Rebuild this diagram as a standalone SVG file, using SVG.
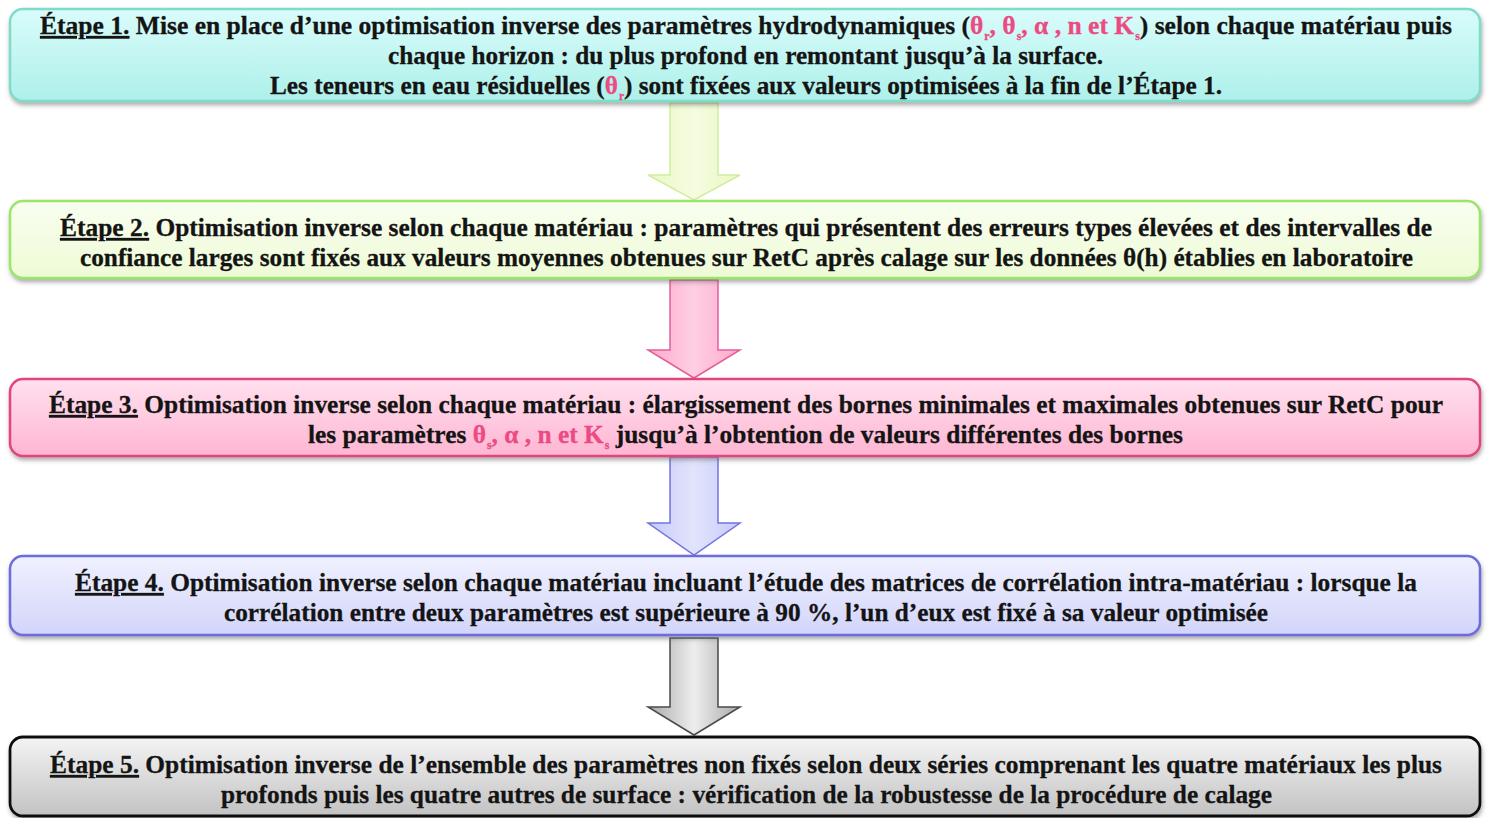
<svg xmlns="http://www.w3.org/2000/svg" width="1488" height="818" viewBox="0 0 1488 818">
<defs>
<linearGradient id="g1" x1="0" y1="0" x2="0" y2="1"><stop offset="0" stop-color="#d9fcfb"/><stop offset="1" stop-color="#aef0ea"/></linearGradient>
<linearGradient id="g2" x1="0" y1="0" x2="0" y2="1"><stop offset="0" stop-color="#f9fef0"/><stop offset="1" stop-color="#eefbd6"/></linearGradient>
<linearGradient id="g3" x1="0" y1="0" x2="0" y2="1"><stop offset="0" stop-color="#ffe0ee"/><stop offset="1" stop-color="#ffb6d3"/></linearGradient>
<linearGradient id="g4" x1="0" y1="0" x2="0" y2="1"><stop offset="0" stop-color="#f0f1fe"/><stop offset="1" stop-color="#d2d5fa"/></linearGradient>
<linearGradient id="g5" x1="0" y1="0" x2="0" y2="1"><stop offset="0" stop-color="#f4f4f4"/><stop offset="1" stop-color="#c2c2c2"/></linearGradient>
<linearGradient id="a1" x1="0" y1="0" x2="1" y2="0"><stop offset="0" stop-color="#eaf7c4"/><stop offset="0.5" stop-color="#f6fce0"/><stop offset="1" stop-color="#eaf7c4"/></linearGradient>
<linearGradient id="a2" x1="0" y1="0" x2="1" y2="0"><stop offset="0" stop-color="#ffa8cc"/><stop offset="0.5" stop-color="#ffcfe3"/><stop offset="1" stop-color="#ffa8cc"/></linearGradient>
<linearGradient id="a3" x1="0" y1="0" x2="1" y2="0"><stop offset="0" stop-color="#c6caf8"/><stop offset="0.5" stop-color="#e2e4fc"/><stop offset="1" stop-color="#c6caf8"/></linearGradient>
<linearGradient id="a4" x1="0" y1="0" x2="1" y2="0"><stop offset="0" stop-color="#a8a8a8"/><stop offset="0.5" stop-color="#eeeeee"/><stop offset="1" stop-color="#a8a8a8"/></linearGradient>
<filter id="sh" x="-5%" y="-20%" width="110%" height="150%"><feDropShadow dx="1" dy="3" stdDeviation="2" flood-color="#666" flood-opacity="0.55"/></filter>
</defs>
<style>
.t{font-weight:bold;font-size:26px;fill:#141414}
text{stroke:#141414;stroke-width:0.3}
.p{fill:#ec4a82;stroke:#ec4a82}
.s{font-size:12px}
.u{text-decoration:underline}
.box{stroke-width:2.5}
.arr{stroke-width:1.5;stroke-linejoin:miter}
</style>
<rect x="0" y="0" width="1488" height="818" fill="#ffffff"/>
<g id="connectors">
<polygon class="arr" fill="url(#a1)" stroke="#cfeea0" points="670,103 718,103 718,175 740,175 694,200 648,175 670,175"/>
<polygon class="arr" fill="url(#a2)" stroke="#e2609a" points="670,280 718,280 718,350 740,350 694,378 648,350 670,350"/>
<polygon class="arr" fill="url(#a3)" stroke="#7474e0" points="670,457 718,457 718,523 740,523 694,555 648,523 670,523"/>
<polygon class="arr" fill="url(#a4)" stroke="#4a4a4a" points="670,638 718,638 718,707 740,707 694,735 648,707 670,707"/>
</g>
<g class="t" font-family="Liberation Serif, DejaVu Serif, serif">
<g id="step1">
<rect class="box" x="10" y="9" width="1470" height="92" rx="13" fill="url(#g1)" stroke="#7fdcc8" filter="url(#sh)"/>
<text x="40" y="34" textLength="1412" lengthAdjust="spacingAndGlyphs"><tspan class="u">Étape 1.</tspan> Mise en place d’une optimisation inverse des paramètres hydrodynamiques (<tspan class="p">θ</tspan><tspan class="p s" dx="1" dy="6">r</tspan><tspan class="p" dy="-6">, θ</tspan><tspan class="p s" dx="1" dy="6">s</tspan><tspan class="p" dy="-6">, α , n et K</tspan><tspan class="p s" dx="1" dy="6">s</tspan><tspan dy="-6">) selon chaque matériau puis</tspan></text>
<text x="388" y="64" textLength="715" lengthAdjust="spacingAndGlyphs">chaque horizon : du plus profond en remontant jusqu’à la surface.</text>
<text x="270" y="94" textLength="952" lengthAdjust="spacingAndGlyphs">Les teneurs en eau résiduelles (<tspan class="p">θ</tspan><tspan class="p s" dx="1" dy="6">r</tspan><tspan dy="-6">) sont fixées aux valeurs optimisées à la fin de l’Étape 1.</tspan></text>
</g>
<g id="step2">
<rect class="box" x="10" y="201" width="1470" height="77" rx="13" fill="url(#g2)" stroke="#9ae66a" filter="url(#sh)"/>
<text x="60" y="236" textLength="1372" lengthAdjust="spacingAndGlyphs"><tspan class="u">Étape 2.</tspan> Optimisation inverse selon chaque matériau : paramètres qui présentent des erreurs types élevées et des intervalles de</text>
<text x="80" y="266" textLength="1333" lengthAdjust="spacingAndGlyphs">confiance larges sont fixés aux valeurs moyennes obtenues sur RetC après calage sur les données θ(h) établies en laboratoire</text>
</g>
<g id="step3">
<rect class="box" x="10" y="379" width="1470" height="77" rx="13" fill="url(#g3)" stroke="#e2447e" filter="url(#sh)"/>
<text x="49" y="413" textLength="1394" lengthAdjust="spacingAndGlyphs"><tspan class="u">Étape 3.</tspan> Optimisation inverse selon chaque matériau : élargissement des bornes minimales et maximales obtenues sur RetC pour</text>
<text x="308" y="443" textLength="875" lengthAdjust="spacingAndGlyphs">les paramètres <tspan class="p">θ</tspan><tspan class="p s" dx="1" dy="6">s</tspan><tspan class="p" dy="-6">, α , n et K</tspan><tspan class="p s" dx="1" dy="6">s</tspan><tspan dy="-6"> jusqu’à l’obtention de valeurs différentes des bornes</tspan></text>
</g>
<g id="step4">
<rect class="box" x="10" y="556" width="1470" height="79" rx="13" fill="url(#g4)" stroke="#6c6cdc" filter="url(#sh)"/>
<text x="75" y="591" textLength="1342" lengthAdjust="spacingAndGlyphs"><tspan class="u">Étape 4.</tspan> Optimisation inverse selon chaque matériau incluant l’étude des matrices de corrélation intra-matériau : lorsque la</text>
<text x="224" y="621" textLength="1044" lengthAdjust="spacingAndGlyphs">corrélation entre deux paramètres est supérieure à 90 %, l’un d’eux est fixé à sa valeur optimisée</text>
</g>
<g id="step5">
<rect x="10" y="737" width="1470" height="79" rx="13" fill="url(#g5)" stroke="#111111" stroke-width="2.8" filter="url(#sh)"/>
<text x="50" y="773" textLength="1392" lengthAdjust="spacingAndGlyphs"><tspan class="u">Étape 5.</tspan> Optimisation inverse de l’ensemble des paramètres non fixés selon deux séries comprenant les quatre matériaux les plus</text>
<text x="221" y="803" textLength="1051" lengthAdjust="spacingAndGlyphs">profonds puis les quatre autres de surface : vérification de la robustesse de la procédure de calage</text>
</g>
</g>
</svg>
